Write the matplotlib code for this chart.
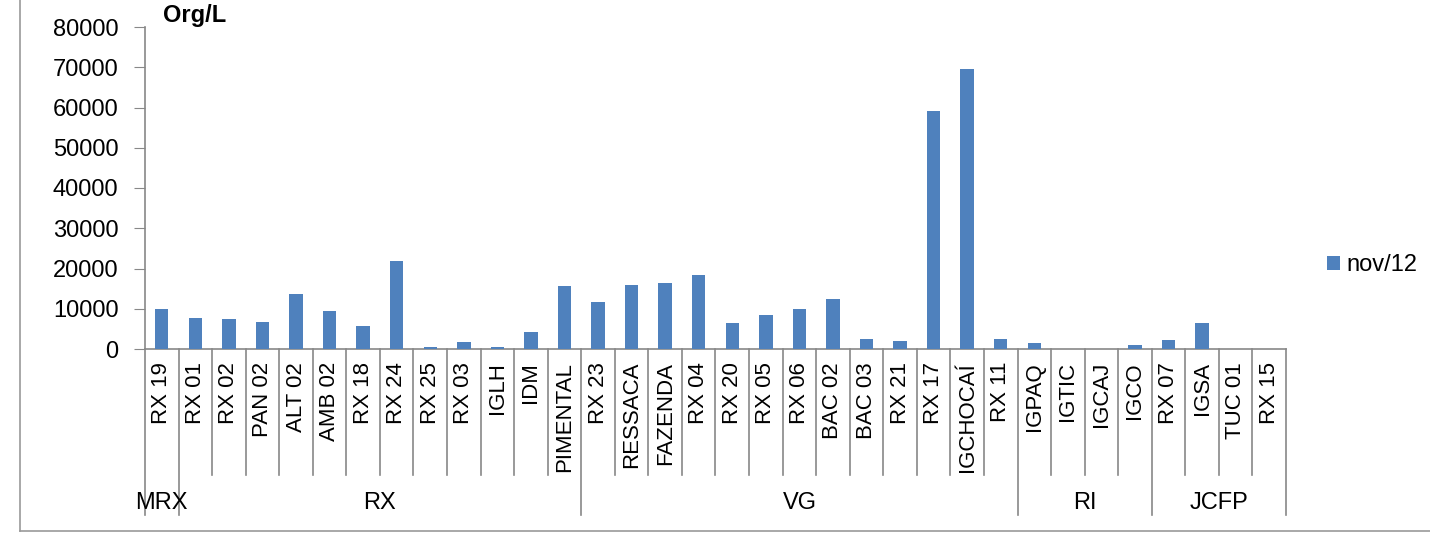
import numpy as np
import matplotlib.pyplot as plt
from matplotlib.lines import Line2D
import matplotlib.transforms as mtransforms

plt.rcParams['font.family'] = ['Liberation Sans', 'DejaVu Sans']

# Stations and their basin groups
stations = ["RX 19", "RX 01", "RX 02", "PAN 02", "ALT 02", "AMB 02", "RX 18", "RX 24",
            "RX 25", "RX 03", "IGLH", "IDM", "PIMENTAL",
            "RX 23", "RESSACA", "FAZENDA", "RX 04", "RX 20", "RX 05", "RX 06", "BAC 02",
            "BAC 03", "RX 21", "RX 17", "IGCHOCAÍ", "RX 11",
            "IGPAQ", "IGTIC", "IGCAJ", "IGCO",
            "RX 07", "IGSA", "TUC 01", "RX 15"]
groups = ["MRX", "RX", "VG", "RI", "JCFP"]
group_sizes = [1, 12, 13, 4, 4]

# Density (Org/L), nov/12
nov12 = [9850, 7630, 7380, 6630, 13660, 9520, 5710, 21860,
         420, 1740, 580, 4150, 15580,
         11680, 15820, 16320, 18380, 6460, 8450, 10020, 12420,
         2480, 1900, 59130, 69570, 2480,
         1490, 0, 0, 1070,
         2150, 6380, 0, 0]

fig = plt.figure(figsize=(14.3, 5.37), dpi=100)
ax = fig.add_axes([145/1430, 1 - 349/537, (1286 - 145)/1430, 322/537])

x = np.arange(len(stations))
ax.bar(x, nov12, width=0.4, color="#4F81BD", label="nov/12", zorder=3)

ax.set_xlim(-0.5, len(stations) - 0.5)
ax.set_ylim(0, 80000)
ax.set_yticks(np.arange(0, 80001, 10000))
ax.tick_params(axis='y', labelsize=17, length=8, color="#888888", pad=11)
ax.set_xticks([])
for s in ["top", "right"]:
    ax.spines[s].set_visible(False)
for s in ["left", "bottom"]:
    ax.spines[s].set_color("#888888")
    ax.spines[s].set_linewidth(1.2)

trans = mtransforms.blended_transform_factory(ax.transData, ax.transAxes)

# station labels
for i, name in enumerate(stations):
    ax.text(i, -0.04, name, rotation=90, ha="center", va="top", fontsize=16,
            transform=trans)

# separator lines (short between stations, long between groups)
bounds = np.cumsum([0] + group_sizes)
for k in range(len(stations) + 1):
    y_end = -0.516 if k in bounds else -0.391
    ax.plot([k - 0.5, k - 0.5], [0, y_end], color="#888888", lw=1.2,
            transform=trans, clip_on=False)

# group labels
for g, a, b in zip(groups, bounds[:-1], bounds[1:]):
    ax.text((a + b - 1) / 2, -0.478, g, ha="center", va="center", fontsize=17,
            transform=trans)

ax.text(0.016, 1.0, "Org/L", fontsize=17, fontweight="bold", transform=ax.transAxes,
        ha="left", va="bottom")

fig.legend(loc="center left", bbox_to_anchor=(0.913, 1 - 265/537), frameon=False,
           fontsize=17, handlelength=0.55, handleheight=0.55, handletextpad=0.3)

# outer frame
fig.add_artist(Line2D([20/1430, 20/1430], [1 - 531/537, 1], color="#999999", lw=1.2))
fig.add_artist(Line2D([20/1430, 1], [1 - 531/537, 1 - 531/537], color="#999999", lw=1.2))

fig.savefig("out.png", dpi=100)
